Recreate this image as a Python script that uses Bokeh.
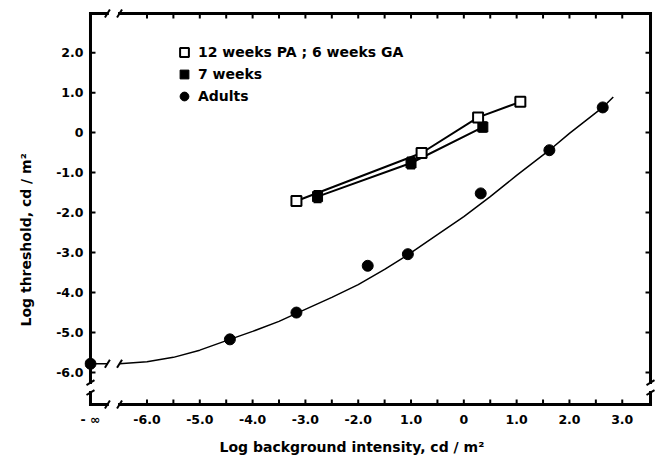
import numpy as np
from bokeh.plotting import figure
from bokeh.models import (FixedTicker, Title, Legend, LegendItem,
                          Whisker, TeeHead, ColumnDataSource, Range1d)
from bokeh.embed import file_html
from bokeh.resources import INLINE

# ---------------- data ----------------
open_x = [-3.17, -0.80, 0.27, 1.07]          # 12 weeks PA; 6 weeks GA
open_y = [-1.71, -0.51, 0.38, 0.77]

filled_x = [-2.77, -1.00, 0.36]              # 7 weeks
filled_y = [-1.60, -0.76, 0.14]
filled_err = [0.14, 0.14, 0.12]

adult_x = [-4.43, -3.17, -1.82, -1.06, 0.32, 1.62, 2.63]   # Adults
adult_y = [-5.17, -4.50, -3.33, -3.04, -1.52, -0.44, 0.63]
adult_inf_y = -5.78                          # adult threshold at background -inf

curve_x = [-6.52, -6.0, -5.5, -5.0, -4.43, -4.0, -3.5, -3.17, -2.5, -2.0,
           -1.5, -1.06, -0.5, 0.0, 0.5, 1.0, 1.62, 2.0, 2.63, 2.83]
curve_y = [-5.78, -5.73, -5.62, -5.44, -5.17, -4.97, -4.72, -4.52, -4.12, -3.80,
           -3.42, -3.06, -2.55, -2.10, -1.60, -1.07, -0.44, -0.02, 0.63, 0.89]

x_tick_vals = [-6, -5, -4, -3, -2, -1, 0, 1, 2, 3]
x_tick_labels = ["-6.0", "-5.0", "-4.0", "-3.0", "-2.0", "1.0", "0", "1.0", "2.0", "3.0"]
x_minor_vals = [-5.5, -4.5, -3.5, -2.5, -1.5, -0.5, 0.5, 1.5, 2.5]
neg_inf_label = "- \u221e"

y_tick_vals = [-6, -5, -4, -3, -2, -1, 0, 1, 2]
y_tick_labels = ["-6.0", "-5.0", "-4.0", "-3.0", "-2.0", "-1.0", "0", "1.0", "2.0"]

legend_labels = ["12 weeks PA ; 6 weeks GA", "7 weeks", "Adults"]
x_title = "Log background intensity,  cd / m\u00b2"
y_title = "Log threshold,  cd / m\u00b2"

# ---------------- frame geometry ----------------
X_LEFT, X_RIGHT = -7.07, 3.535      # left axis stands for -inf
Y_BOTTOM, Y_TOP = -6.80, 2.98
X_BREAK = (-6.75, -6.52)
Y_BREAK = (-6.25, -6.50)

W, H = 660, 461
BL, BR, BT, BB = 83, 5, 8, 49
PAD_L, PAD_R, PAD_T, PAD_B = 6, 5, 5, 5
FW, FH = W - BL - BR, H - BT - BB
kx = (FW - PAD_L - PAD_R) / (X_RIGHT - X_LEFT)     # px per data unit
ky = (FH - PAD_T - PAD_B) / (Y_TOP - Y_BOTTOM)
TICK = 5

p = figure(width=W, height=H, output_backend="svg", toolbar_location=None,
           x_range=Range1d(X_LEFT - PAD_L / kx, X_RIGHT + PAD_R / kx),
           y_range=Range1d(Y_BOTTOM - PAD_B / ky, Y_TOP + PAD_T / ky),
           min_border_left=BL, min_border_right=BR, min_border_top=BT, min_border_bottom=BB)
p.outline_line_color = None
p.xgrid.grid_line_color = None
p.ygrid.grid_line_color = None

FONT = "DejaVu Sans"

# ---------------- frame with breaks ----------------
fx0, fy0, fx1, fy1 = [], [], [], []
for yy in (Y_TOP, Y_BOTTOM):
    fx0 += [X_LEFT, X_BREAK[1]]; fy0 += [yy, yy]; fx1 += [X_BREAK[0], X_RIGHT]; fy1 += [yy, yy]
for xx in (X_LEFT, X_RIGHT):
    fx0 += [xx, xx]; fy0 += [Y_TOP, Y_BREAK[1]]; fx1 += [xx, xx]; fy1 += [Y_BREAK[0], Y_BOTTOM]
p.segment(fx0, fy0, fx1, fy1, line_color="black", line_width=3, line_cap="square")

bx0, by0, bx1, by1 = [], [], [], []
for yy in (Y_TOP, Y_BOTTOM, adult_inf_y):
    for xb in X_BREAK:
        bx0.append(xb - 2.5 / kx); by0.append(yy - 4 / ky)
        bx1.append(xb + 2.5 / kx); by1.append(yy + 4 / ky)
for xx in (X_LEFT, X_RIGHT):
    for yb in Y_BREAK:
        bx0.append(xx - 4 / kx); by0.append(yb - 2.5 / ky)
        bx1.append(xx + 4 / kx); by1.append(yb + 2.5 / ky)
p.segment(bx0, by0, bx1, by1, line_color="black", line_width=2)

# inward tick marks on all four sides (at the tick values)
xticks_all = x_tick_vals + x_minor_vals
p.segment(xticks_all, [Y_BOTTOM] * len(xticks_all), xticks_all,
          [Y_BOTTOM + TICK / ky] * len(xticks_all), line_color="black", line_width=2)
p.segment(xticks_all, [Y_TOP] * len(xticks_all), xticks_all,
          [Y_TOP - TICK / ky] * len(xticks_all), line_color="black", line_width=2)
p.segment([X_LEFT] * len(y_tick_vals), y_tick_vals, [X_LEFT + TICK / kx] * len(y_tick_vals),
          y_tick_vals, line_color="black", line_width=2)
p.segment([X_RIGHT] * len(y_tick_vals), y_tick_vals, [X_RIGHT - TICK / kx] * len(y_tick_vals),
          y_tick_vals, line_color="black", line_width=2)

# ---------------- axes (labels) ----------------
def style_axis(ax):
    ax.axis_line_color = None
    ax.major_tick_line_color = None
    ax.minor_tick_line_color = None
    ax.major_tick_in = 0
    ax.major_tick_out = 0
    ax.minor_tick_in = 0
    ax.minor_tick_out = 0
    ax.major_label_text_font = FONT
    ax.major_label_text_font_style = "bold"
    ax.major_label_text_color = "black"
    ax.major_label_text_font_size = "12.5px"

p.xaxis.ticker = FixedTicker(ticks=[X_LEFT] + x_tick_vals, minor_ticks=[])
style_axis(p.xaxis[0])
p.xaxis.major_label_standoff = 2
ov = {float(v): s for v, s in zip(x_tick_vals, x_tick_labels)}
ov[float(X_LEFT)] = neg_inf_label
p.xaxis.major_label_overrides = ov

p.yaxis.ticker = FixedTicker(ticks=y_tick_vals, minor_ticks=[])
style_axis(p.yaxis[0])
p.yaxis.major_label_standoff = 1
p.yaxis.major_label_overrides = {float(v): s for v, s in zip(y_tick_vals, y_tick_labels)}

# ---------------- data ----------------
p.segment([X_LEFT], [adult_inf_y], [X_BREAK[0]], [adult_inf_y], line_color="black", line_width=1.5)
p.line(curve_x, curve_y, line_color="black", line_width=1.5)

p.line(open_x, open_y, line_color="black", line_width=2)
p.line(filled_x, filled_y, line_color="black", line_width=2)

fsrc = ColumnDataSource(dict(x=filled_x, y=filled_y,
                             lo=[a - e for a, e in zip(filled_y, filled_err)],
                             hi=[a + e for a, e in zip(filled_y, filled_err)]))
wk = Whisker(base="x", lower="lo", upper="hi", source=fsrc, dimension="height",
             line_color="black", line_width=2,
             lower_head=TeeHead(size=8, line_width=2), upper_head=TeeHead(size=8, line_width=2))
p.add_layout(wk)

r_filled = p.scatter(filled_x, filled_y, marker="square", size=10,
                     fill_color="black", line_color="black", line_width=1)
r_open = p.scatter(open_x, open_y, marker="square", size=10,
                   fill_color="white", line_color="black", line_width=2)
r_adult = p.scatter(adult_x + [X_LEFT], adult_y + [adult_inf_y], marker="circle", size=11,
                    fill_color="black", line_color="black")

# ---------------- legend ----------------
legend = Legend(items=[LegendItem(label=legend_labels[0], renderers=[r_open]),
                       LegendItem(label=legend_labels[1], renderers=[r_filled]),
                       LegendItem(label=legend_labels[2], renderers=[r_adult])],
                location=(89, 302), padding=0, margin=0, spacing=0,
                glyph_width=22, glyph_height=22, label_height=22, label_standoff=3,
                border_line_color=None, background_fill_alpha=0,
                label_text_font=FONT, label_text_font_style="bold",
                label_text_color="black", label_text_font_size="14px")
p.add_layout(legend)

# ---------------- axis titles ----------------
p.add_layout(Title(text=x_title, align="left", offset=135, standoff=14,
                   text_font=FONT, text_font_style="bold", text_font_size="14px",
                   text_color="black"), "below")
p.add_layout(Title(text=y_title, align="left", offset=83, standoff=35, vertical_align="top",
                   text_font=FONT, text_font_style="bold", text_font_size="14px",
                   text_color="black"), "left")

open("out.html", "w").write(file_html(p, INLINE))
